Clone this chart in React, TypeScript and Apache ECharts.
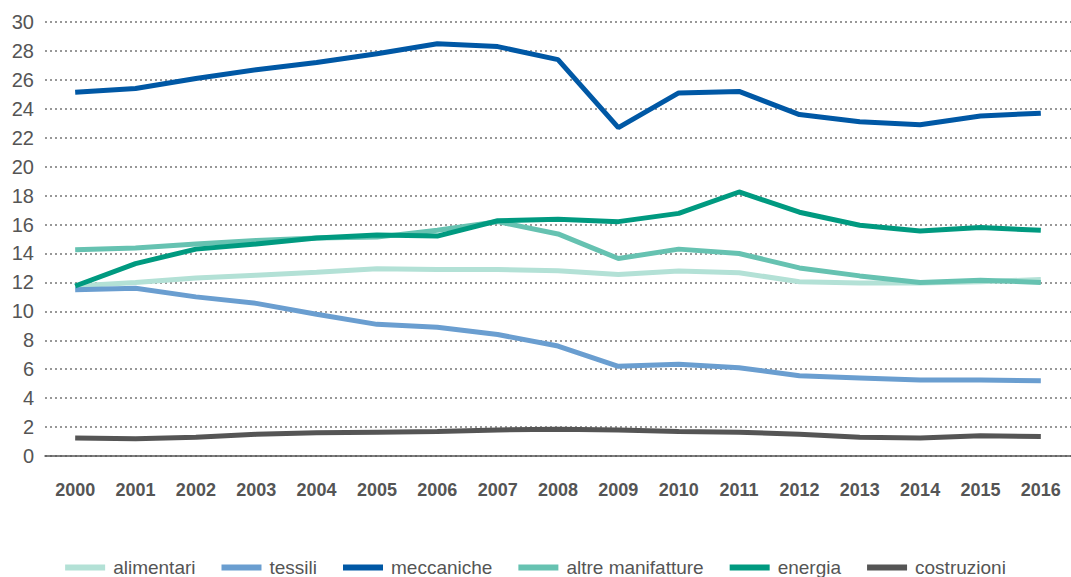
import React, { useEffect, useRef } from "react";
import * as echarts from "echarts";

const years = ["2000","2001","2002","2003","2004","2005","2006","2007","2008","2009","2010","2011","2012","2013","2014","2015","2016"];
const alimentari = [11.75, 12.0, 12.3, 12.5, 12.7, 12.95, 12.9, 12.9, 12.8, 12.55, 12.78, 12.67, 12.05, 11.95, 11.95, 12.05, 12.2];
const tessili = [11.5, 11.6, 11.0, 10.55, 9.8, 9.1, 8.9, 8.4, 7.6, 6.2, 6.35, 6.1, 5.55, 5.4, 5.25, 5.25, 5.2];
const meccaniche = [25.15, 25.4, 26.1, 26.7, 27.2, 27.8, 28.5, 28.3, 27.4, 22.7, 25.1, 25.2, 23.6, 23.1, 22.9, 23.5, 23.7];
const altreManifatture = [14.25, 14.37, 14.65, 14.9, 15.07, 15.13, 15.6, 16.2, 15.35, 13.65, 14.3, 14.0, 13.0, 12.45, 12.0, 12.15, 12.0];
const energia = [11.75, 13.3, 14.3, 14.65, 15.07, 15.27, 15.2, 16.26, 16.36, 16.2, 16.77, 18.25, 16.85, 15.95, 15.55, 15.8, 15.6];
const costruzioni = [1.25, 1.2, 1.3, 1.5, 1.6, 1.65, 1.7, 1.8, 1.85, 1.8, 1.7, 1.65, 1.5, 1.3, 1.25, 1.4, 1.35];

const seriesNames = ["alimentari", "tessili", "meccaniche", "altre manifatture", "energia", "costruzioni"];
const seriesData = [alimentari, tessili, meccaniche, altreManifatture, energia, costruzioni];
const colors = ["#b3e1d6", "#6a9ed0", "#0058a5", "#66c2b1", "#009a80", "#555555"];

export default function App() {
  const ref = useRef<HTMLDivElement>(null);
  useEffect(() => {
    document.body.style.margin = "0";
    const chart = echarts.init(ref.current!, null, { renderer: "svg" });
    const font = "'Liberation Sans', Arial, Helvetica, sans-serif";
    chart.setOption({
      animation: false,
      backgroundColor: "#ffffff",
      grid: { left: 45, right: -5, top: 22, bottom: 121, containLabel: false },
      legend: {
        data: seriesNames,
        left: "center",
        top: 558,
        padding: 0,
        icon: "rect",
        itemWidth: 40,
        itemHeight: 6,
        itemGap: 26,
        textStyle: { fontFamily: font, fontSize: 19, color: "#555555", padding: [0, 0, 0, 3], lineHeight: 19 },
      },
      xAxis: {
        type: "category",
        data: years,
        boundaryGap: true,
        axisLine: { show: true, lineStyle: { color: "#555555", width: 1.5 } },
        axisTick: { show: false },
        axisLabel: { fontFamily: font, fontSize: 18, fontWeight: "bold", color: "#555555", margin: 25 },
        splitLine: { show: false },
      },
      yAxis: {
        type: "value",
        min: 0,
        max: 30,
        interval: 2,
        axisLine: { show: false },
        axisTick: { show: false },
        axisLabel: { fontFamily: font, fontSize: 20, color: "#555555", margin: 11 },
        splitLine: { show: true, lineStyle: { color: "#777777", width: 1.5, type: [2, 3] } },
      },
      series: seriesNames.map((name, i) => ({
        name,
        type: "line",
        data: seriesData[i],
        symbol: "none",
        smooth: false,
        color: colors[i],
        lineStyle: { color: colors[i], width: 5 },
        z: 2 + i,
      })),
    });
    return () => chart.dispose();
  }, []);
  return <div ref={ref} style={{ width: 1071, height: 577 }} />;
}
